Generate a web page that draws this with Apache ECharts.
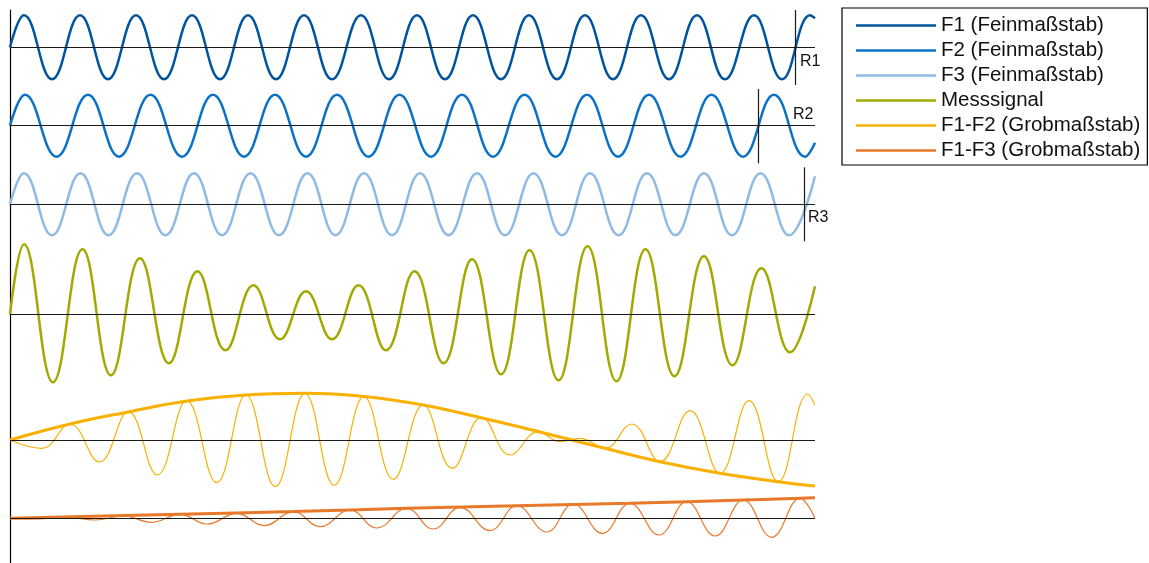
<!DOCTYPE html>
<html>
<head>
<meta charset="utf-8">
<script src="https://cdn.jsdelivr.net/npm/echarts@6/dist/echarts.min.js"></script>
<style>
  html, body { margin: 0; padding: 0; background: #fff; }
  #chart-container { width: 1149px; height: 563px; }
</style>
</head>
<body>
<div id="chart-container"></div>
<script>
// Extrema: [x, signal]
const f1 = [[0,0],[14,32],[42,-32],[70,32],[98,-32],[126,32],[154,-32],[182,32],[210,-32],[238,32],[266,-32],[294,32],[322,-32],[351,32],[379,-32],[407,32],[435,-32],[463,32],[491,-32],[519,32],[547,-32],[575,32],[603,-32],[631,32],[659,-32],[687,32],[715,-32],[744,32],[772,-32],[800,32],[805,29]];
const f2 = [[0,0],[15,31],[46.5,-31],[78,31],[109,-31],[140.5,31],[172,-31],[203,31],[234,-31],[265,31],[296,-31],[327,31],[358.5,-31],[389.5,31],[421,-31],[452,31],[483,-31],[514.5,31],[545.5,-31],[577,31],[608,-31],[639,31],[670.5,-31],[701.5,31],[733,-31],[764,31],[795,-31],[805,-17]];
const f3 = [[0,0],[14,31],[42,-31],[70.5,31],[98.5,-31],[127,31],[155.5,-31],[184,31],[212,-31],[240.5,31],[269,-31],[297.5,31],[325.5,-31],[354,31],[382,-31],[410,31],[438.5,-31],[467,31],[495,-31],[523.5,31],[552,-31],[580,31],[608.5,-31],[637,31],[665.5,-31],[694,31],[722,-31],[750.5,31],[779,-31],[805,28]];
const mess = [[0,0],[14,70],[43,-68],[72.5,65],[101,-61],[130,56],[159,-49],[187.5,43],[215.5,-36],[243.5,29],[270,-25],[296,23],[322,-25],[348.5,29],[376,-36],[404.5,43],[433.5,-49],[462,55],[491,-60],[519.5,64],[548.5,-66],[577.5,68],[606.5,-67],[635.5,65],[664.5,-62],[694,58],[722.5,-51],[751.5,46],[780,-38],[805,28]];
const f12 = [[0,0],[31.7,-8.3],[60,16],[89.3,-22],[118.3,28.3],[147.3,-35],[176.7,39.3],[206.7,-42.7],[236,45],[265.3,-46.7],[295,46.7],[324.3,-45.3],[354,43.3],[383.3,-39.3],[413.3,35],[442.3,-28.3],[471.7,22.7],[500,-15],[528.3,8.3],[550,-1.7],[570,1.7],[595,-8.3],[621.7,16],[650,-21.7],[680,29.3],[710,-33.3],[739,39.3],[768.3,-41.7],[797.7,46],[805,35]];
const f12Env = [[0,0],[60,16],[118,28],[177,39],[236,45],[295,46.7],[354,43.5],[413,35],[472,22],[528,8.5],[562,0],[595,-8.3],[650,-21.7],[710,-33.3],[768,-41.7],[805,-46]];
const f13 = [[0,0],[28,-0.5],[56.7,1],[85,-1.7],[113.3,2.3],[141.7,-4],[170,4],[197.3,-5.7],[226.7,5],[254.3,-7.3],[283.3,6.7],[310,-8.3],[340,8.3],[366.7,-9.7],[396.7,10],[423.3,-10.7],[450,11],[480,-12.3],[506.7,12.6],[536.7,-13.7],[563.3,14.3],[592.3,-15],[620,15],[649,-16.7],[676.7,16.6],[705,-17.7],[733.3,18.3],[761.7,-19],[790,20],[805,0]];
const f13Env = [[0,0],[170,4],[283.3,6.7],[396.7,10],[506.7,12.6],[620,15],[733.3,18.3],[805,20.6]];

const names = ['F1 (Feinmaßstab)', 'F2 (Feinmaßstab)', 'F3 (Feinmaßstab)', 'Messsignal', 'F1-F2 (Grobmaßstab)', 'F1-F3 (Grobmaßstab)'];
const colors = ['#00549F', '#0A72C6', '#8EBAE5', '#A2A900', '#F9B000', '#E8792B'];
// reference markers: [label, x, top, bottom, label x, label y] relative to strip baseline
const refMarks = [
    ['R1', 785.7, 37.3, -37.7, 790, -14],
    ['R2', 748.3, 36.7, -37.6, 783, 10.7],
    ['R3', 794, 37, -37, 798, -13.7]
];

// layout
const baselines = [515.7, 437.3, 358.7, 248.7, 123, 44.7];

function shift(arr, off) {
    return arr.map(p => [p[0], p[1] + off]);
}

function baseLine(off) {
    return { yAxis: off };
}

function refLine(m, off) {
    return [
        { coord: [m[1], off + m[2]] },
        { coord: [m[1], off + m[3]] }
    ];
}

function makeSeries(name, data, off, color, width, extraMarks, points) {
    const s = {
        name: name,
        type: 'line',
        data: shift(data, off),
        smooth: 0.43,
        showSymbol: false,
        symbol: 'none',
        lineStyle: { color: color, width: width },
        itemStyle: { color: color },
        clip: false,
        animation: false,
        silent: true
    };
    if (extraMarks) {
        s.markLine = {
            silent: true,
            symbol: ['none', 'none'],
            animation: false,
            label: { show: false },
            lineStyle: { color: '#1a1a1a', width: 1.2, type: 'solid' },
            data: extraMarks
        };
    }
    if (points) {
        s.markPoint = {
            silent: true,
            animation: false,
            symbol: 'circle',
            symbolSize: 0,
            data: points
        };
    }
    return s;
}

function refPoint(m, off) {
    return {
        coord: [m[4], off + m[5]],
        label: {
            show: true, position: 'right', distance: 0,
            formatter: m[0], color: '#111',
            fontFamily: 'Liberation Sans', fontSize: 16
        }
    };
}

const series = [
    makeSeries(names[0], f1, baselines[0], colors[0], 2.5,
        [baseLine(baselines[0]), refLine(refMarks[0], baselines[0])], [refPoint(refMarks[0], baselines[0])]),
    makeSeries(names[1], f2, baselines[1], colors[1], 2.5,
        [baseLine(baselines[1]), refLine(refMarks[1], baselines[1])], [refPoint(refMarks[1], baselines[1])]),
    makeSeries(names[2], f3, baselines[2], colors[2], 2.5,
        [baseLine(baselines[2]), refLine(refMarks[2], baselines[2])], [refPoint(refMarks[2], baselines[2])]),
    makeSeries(names[3], mess, baselines[3], colors[3], 2.5, [baseLine(baselines[3])]),
    makeSeries(names[4], f12, baselines[4], colors[4], 1.2, [baseLine(baselines[4])]),
    makeSeries(names[4], f12Env, baselines[4], colors[4], 3),
    makeSeries(names[5], f13, baselines[5], colors[5], 1.2, [baseLine(baselines[5])]),
    makeSeries(names[5], f13Env, baselines[5], colors[5], 3)
];

const chart = echarts.init(document.getElementById('chart-container'));

const option = {
    backgroundColor: '#fff',
    animation: false,
    grid: { left: 10, right: 334, top: 10, bottom: 0, containLabel: false },
    legend: {
        data: names,
        orient: 'vertical',
        left: 842,
        top: 8,
        padding: [7, 7, 4, 14],
        itemGap: 4,
        itemWidth: 80,
        itemHeight: 2.5,
        icon: 'rect',
        borderColor: '#000',
        borderWidth: 1.2,
        borderRadius: 0,
        selectedMode: false,
        textStyle: {
            fontFamily: 'Liberation Sans',
            fontSize: 20.5,
            lineHeight: 20,
            color: '#111',
            padding: [0, 0, 0, 0]
        }
    },
    xAxis: {
        type: 'value',
        min: 0,
        max: 805,
        show: false
    },
    yAxis: {
        type: 'value',
        min: 0,
        max: 553,
        axisLine: { show: true, lineStyle: { color: '#000', width: 1.2 } },
        axisTick: { show: false },
        axisLabel: { show: false },
        splitLine: { show: false }
    },
    series: series
};

chart.setOption(option);
</script>
</body>
</html>
